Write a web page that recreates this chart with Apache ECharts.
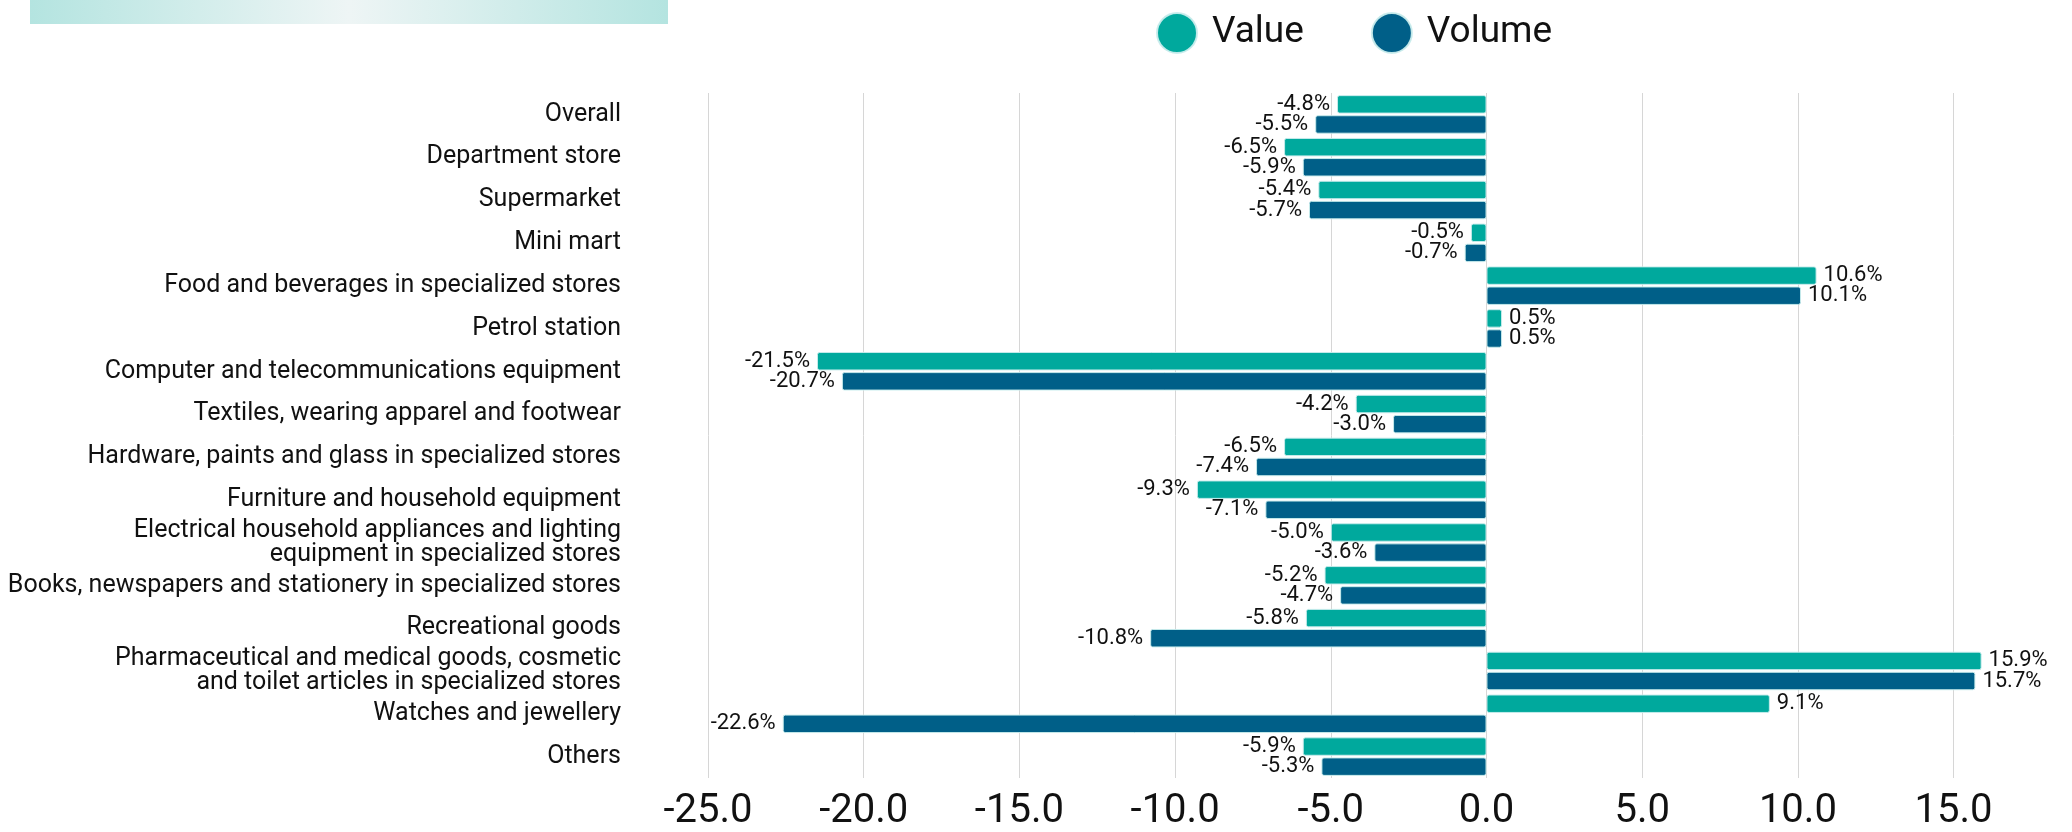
<!DOCTYPE html>
<html>
<head>
<meta charset="utf-8">
<script src="https://cdn.jsdelivr.net/npm/echarts@6/dist/echarts.min.js"></script>
<style>
html,body{margin:0;padding:0;background:#fff;}
#chart{width:2072px;height:832px;}
</style>
</head>
<body>
<div id="chart"></div>
<script>
const categories = [
  'Overall',
  'Department store',
  'Supermarket',
  'Mini mart',
  'Food and beverages in specialized stores',
  'Petrol station',
  'Computer and telecommunications equipment',
  'Textiles, wearing apparel and footwear',
  'Hardware, paints and glass in specialized stores',
  'Furniture and household equipment',
  'Electrical household appliances and lighting\nequipment in specialized stores',
  'Books, newspapers and stationery in specialized stores',
  'Recreational goods',
  'Pharmaceutical and medical goods, cosmetic\nand toilet articles in specialized stores',
  'Watches and jewellery',
  'Others'
];
const valueSeries = [-4.8, -6.5, -5.4, -0.5, 10.6, 0.5, -21.5, -4.2, -6.5, -9.3, -5.0, -5.2, -5.8, 15.9, 9.1, -5.9];
const volumeSeries = [-5.5, -5.9, -5.7, -0.7, 10.1, 0.5, -20.7, -3.0, -7.4, -7.1, -3.6, -4.7, -10.8, 15.7, -22.6, -5.3];
const seriesNames = ['Value', 'Volume'];
const xTicks = { min: -25, max: 18, interval: 5 };

const FONT = 'Roboto';
const colors = ['#00a99d', '#005f88'];

function toData(arr) {
  return arr.map(v => ({
    value: v,
    label: { position: v < 0 ? 'left' : 'right' }
  }));
}

function makeSeries(name, arr, color) {
  return {
    name: name,
    type: 'bar',
    data: toData(arr),
    barCategoryGap: '10%',
    barGap: '9%',
    itemStyle: {
      color: color,
      borderColor: 'rgba(200,236,236,0.95)',
      borderWidth: 1,
      borderRadius: 2
    },
    label: {
      show: true,
      distance: 7,
      fontFamily: FONT,
      fontSize: 22,
      color: '#111',
      formatter: p => p.value.toFixed(1) + '%'
    }
  };
}

const chart = echarts.init(document.getElementById('chart'), null, { renderer: 'canvas' });
chart.setOption({
  animation: false,
  backgroundColor: '#ffffff',
  textStyle: { fontFamily: FONT },
  graphic: [{
    type: 'rect',
    left: 30,
    top: 0,
    shape: { width: 638, height: 24 },
    style: {
      fill: new echarts.graphic.LinearGradient(0, 0, 1, 0, [
        { offset: 0, color: '#b4e4e0' },
        { offset: 0.5, color: '#eef5f5' },
        { offset: 1, color: '#b4e4e0' }
      ])
    },
    silent: true
  }],
  legend: {
    left: 1151,
    top: 7,
    icon: 'circle',
    itemWidth: 40,
    itemHeight: 40,
    itemGap: 67,
    textStyle: { fontFamily: FONT, fontSize: 37, color: '#111', padding: [0, 0, 0, 10] },
    data: seriesNames
  },
  grid: { left: 708, right: 25, top: 93, bottom: 52 },
  xAxis: {
    type: 'value',
    min: xTicks.min,
    max: xTicks.max,
    interval: xTicks.interval,
    axisLine: { show: false },
    axisTick: { show: false },
    splitLine: { show: true, showMaxLine: false, lineStyle: { color: '#d6d6d6', width: 1 } },
    axisLabel: {
      showMaxLabel: false,
      fontFamily: FONT,
      fontSize: 40,
      color: '#111',
      margin: 14,
      formatter: v => (v % 5 === 0 ? v.toFixed(1) : '')
    }
  },
  yAxis: {
    type: 'category',
    inverse: true,
    data: categories,
    axisLine: { show: false },
    axisTick: { show: false },
    axisLabel: {
      fontFamily: FONT,
      fontSize: 25,
      lineHeight: 24,
      color: '#111',
      margin: 87,
      align: 'right',
      padding: [3, 0, 0, 0]
    }
  },
  series: [
    makeSeries(seriesNames[0], valueSeries, colors[0]),
    makeSeries(seriesNames[1], volumeSeries, colors[1])
  ]
});
</script>
</body>
</html>
